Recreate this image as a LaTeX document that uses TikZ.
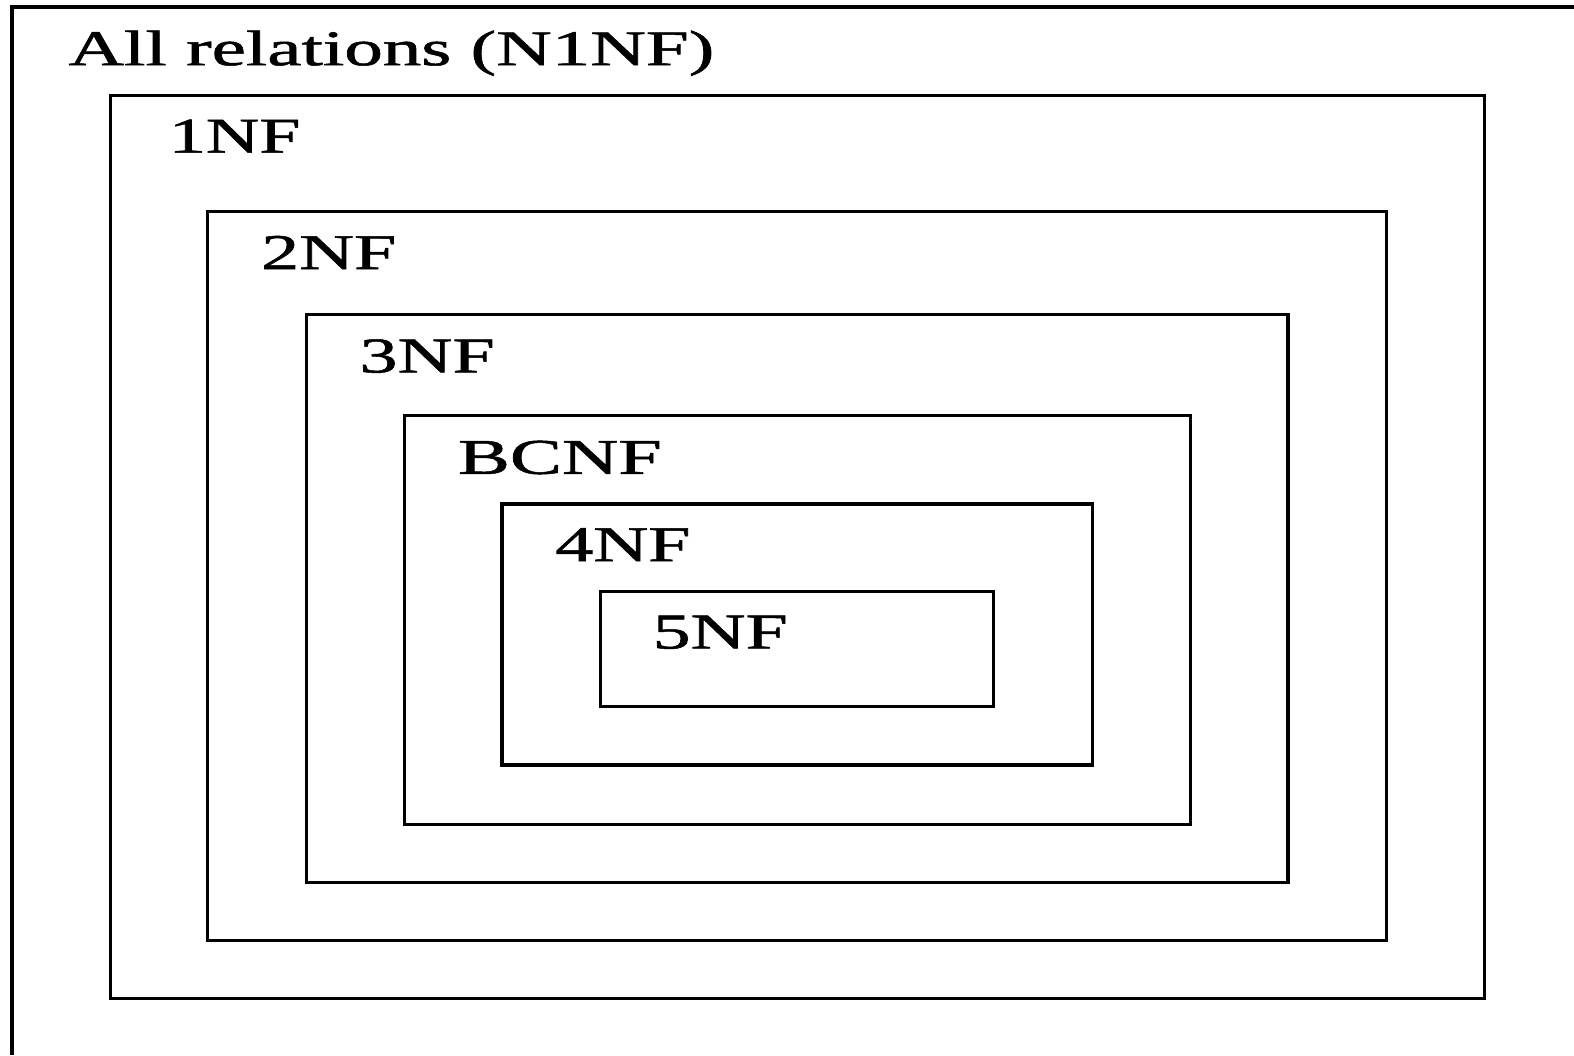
\documentclass[tikz,border=0pt]{standalone}
\usepackage{fontspec}
\setmainfont[FakeBold=1]{Liberation Serif}
\begin{document}
\begin{tikzpicture}[x=1.0038pt,y=-1.0038pt,
  frame/.style={draw=black,line width=3.2pt},
  lbl/.style={anchor=base west,inner sep=0pt,font=\fontsize{50}{60}\selectfont}]
\useasboundingbox (0,0) rectangle (1568,1051);
\fill[white] (0,0) rectangle (1568,1051);
% outer open frame
\draw[frame] (12,1051) -- (12,7) -- (1568,7);
% nested boxes
\draw[frame] (110,95) rectangle (1479,995);
\draw[frame] (207,211) rectangle (1381,937);
\draw[frame] (305,313) rectangle (1283,879);
\draw[frame] (403,414) rectangle (1186,821);
\draw[frame] (500,502) rectangle (1088,762);
\draw[frame] (598,589) rectangle (990,704);
% labels
\node[lbl] (l0) at (68,65) {\scalebox{1.54}[1]{All relations (N1NF)}};
\node[lbl] (l1) at (168,152) {\scalebox{1.48}[1]{1NF}};
\node[lbl] (l2) at (260,268) {\scalebox{1.52}[1]{2NF}};
\node[lbl] (l3) at (358,371) {\scalebox{1.52}[1]{3NF}};
\node[lbl] (l4) at (456,472) {\scalebox{1.56}[1]{BCNF}};
\node[lbl] (l5) at (553,559) {\scalebox{1.52}[1]{4NF}};
\node[lbl] (l6) at (650,646) {\scalebox{1.52}[1]{5NF}};
\end{tikzpicture}
\end{document}
